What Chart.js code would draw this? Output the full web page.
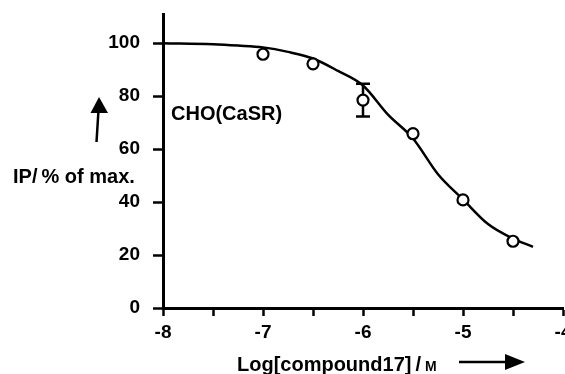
<!DOCTYPE html>
<html>
<head>
<meta charset="utf-8">
<script src="https://cdn.jsdelivr.net/npm/chart.js@4/dist/chart.umd.min.js"></script>
<style>
  html, body { margin: 0; padding: 0; background: #fff; }
  canvas { display: block; }
</style>
</head>
<body>
<canvas id="doseChart" width="565" height="374"></canvas>
<script>
// measured points
const logConc = [-7, -6.5, -6, -5.5, -5, -4.5];
const response = [95.8, 92.2, 78.5, 65.8, 40.8, 25.2];
const errBars = [0, 0, 6.2, 0, 0, 0];

// fitted curve
const fitX = [-8, -7.5, -7.25, -7, -6.75, -6.5, -6.25, -6, -5.75, -5.5, -5.25, -5, -4.75, -4.5, -4.3];
const fitY = [100, 99.6, 99.1, 98.4, 96.7, 94.2, 89.5, 84, 73, 64, 50.5, 41, 31.7, 26.2, 23.1];

const yTicks = [0, 20, 40, 60, 80, 100];

const FONT = '"Liberation Sans", Arial, sans-serif';

const errorBarPlugin = {
    id: 'errorBars',
    beforeDatasetsDraw(chart) {
        const { ctx, scales: { x, y } } = chart;
        ctx.save();
        ctx.strokeStyle = '#000';
        ctx.lineWidth = 2.5;
        logConc.forEach((v, i) => {
            if (!errBars[i]) {
                return;
            }
            const px = x.getPixelForValue(v);
            const top = y.getPixelForValue(response[i] + errBars[i]);
            const bot = y.getPixelForValue(response[i] - errBars[i]);
            ctx.beginPath();
            ctx.moveTo(px, top);
            ctx.lineTo(px, bot);
            ctx.moveTo(px - 7, top);
            ctx.lineTo(px + 7, top);
            ctx.moveTo(px - 7, bot);
            ctx.lineTo(px + 7, bot);
            ctx.stroke();
        });
        ctx.restore();
    },
};

const labelsPlugin = {
    id: 'labels',
    afterDraw(chart) {
        const { ctx, chartArea } = chart;
        ctx.save();
        ctx.fillStyle = '#000';
        ctx.strokeStyle = '#000';
        ctx.textBaseline = 'alphabetic';
        ctx.textAlign = 'left';

        // cell line label
        ctx.font = `bold 20px ${FONT}`;
        ctx.fillText('CHO(CaSR)', chartArea.left + 8, 120);

        // y title (horizontal) + up arrow
        ctx.fillText('IP/\u2009% of max.', 13, 183);
        ctx.lineWidth = 2.5;
        ctx.beginPath();
        ctx.moveTo(96.5, 142);
        ctx.lineTo(98.5, 110);
        ctx.stroke();
        ctx.beginPath();
        ctx.moveTo(99, 97);
        ctx.lineTo(108, 113);
        ctx.lineTo(90.5, 113);
        ctx.closePath();
        ctx.fill();

        // x title + right arrow
        const base = 371;
        const main = 'Log[compound17]\u2009/\u2009';
        ctx.fillText(main, 237, base);
        const w = ctx.measureText(main).width;
        ctx.font = `bold 14px ${FONT}`;
        ctx.fillText('M', 237 + w, base);

        ctx.beginPath();
        ctx.moveTo(459, 362);
        ctx.lineTo(508, 362);
        ctx.stroke();
        ctx.beginPath();
        ctx.moveTo(525, 362);
        ctx.lineTo(505, 354);
        ctx.lineTo(505, 370);
        ctx.closePath();
        ctx.fill();
        ctx.restore();
    },
};

const initChart = () => {
    const canvas = document.getElementById('doseChart');

    new Chart(canvas, {
        type: 'scatter',
        data: {
            datasets: [
                {
                    label: 'CHO(CaSR)',
                    data: logConc.map((v, i) => ({ x: v, y: response[i] })),
                    pointStyle: 'circle',
                    pointRadius: 5.5,
                    pointBackgroundColor: '#fff',
                    pointBorderColor: '#000',
                    pointBorderWidth: 2.2,
                    showLine: false,
                },
                {
                    label: 'fit',
                    data: fitX.map((v, i) => ({ x: v, y: fitY[i] })),
                    showLine: true,
                    borderColor: '#000',
                    borderWidth: 2.5,
                    pointRadius: 0,
                    cubicInterpolationMode: 'monotone',
                    fill: false,
                },
            ],
        },
        options: {
            responsive: false,
            animation: false,
            layout: { autoPadding: false, padding: { left: 0, right: 2, top: 14, bottom: 0 } },
            plugins: {
                legend: { display: false },
                tooltip: { enabled: false },
            },
            scales: {
                x: {
                    type: 'linear',
                    min: -8,
                    max: -4,
                    afterFit: (scale) => {
                        scale.height = 66;
                        scale.paddingLeft = 0;
                        scale.paddingRight = 0;
                    },
                    border: { display: true, color: '#000', width: 3 },
                    grid: {
                        drawOnChartArea: false,
                        drawTicks: true,
                        tickLength: 8,
                        tickWidth: 2.5,
                        tickColor: '#000',
                    },
                    ticks: {
                        stepSize: 0.5,
                        autoSkip: false,
                        maxRotation: 0,
                        padding: 5,
                        color: '#000',
                        font: { family: FONT, size: 19, weight: 'bold' },
                        callback: (v) => (Number.isInteger(v) ? String(v) : ''),
                    },
                },
                y: {
                    min: 0,
                    max: 111,
                    afterFit: (scale) => {
                        scale.width = 163;
                        scale.paddingTop = 0;
                        scale.paddingBottom = 0;
                    },
                    afterBuildTicks: (scale) => {
                        scale.ticks = yTicks.map((v) => ({ value: v }));
                    },
                    border: { display: true, color: '#000', width: 3 },
                    grid: {
                        drawOnChartArea: false,
                        drawTicks: true,
                        tickLength: 10,
                        tickWidth: 2.5,
                        tickColor: '#000',
                    },
                    ticks: {
                        padding: 13,
                        color: '#000',
                        font: { family: FONT, size: 19, weight: 'bold' },
                    },
                },
            },
        },
        plugins: [errorBarPlugin, labelsPlugin],
    });
};

document.addEventListener('DOMContentLoaded', initChart);
</script>
</body>
</html>
